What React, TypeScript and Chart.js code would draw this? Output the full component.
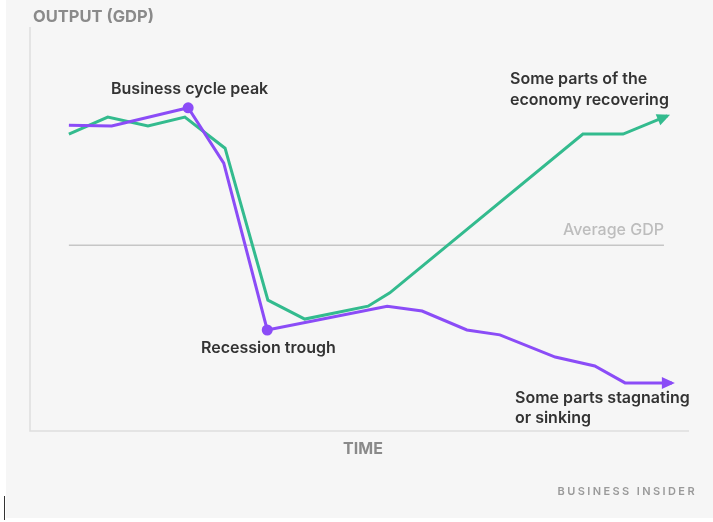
import React, { useEffect, useRef } from "react";
import { Chart, registerables } from "chart.js";

Chart.register(...registerables);

// Time positions (0-100) and output values (0-100)
const timeGreen = [5.9, 11.8, 17.9, 23.5, 29.6, 36.1, 41.7, 51.3, 54.6, 83.9, 90.0, 96.7];
const gdpGreen = [73.5, 77.7, 75.5, 77.7, 70.0, 32.4, 27.7, 30.9, 34.2, 73.5, 73.5, 78.0];

const timePurple = [5.9, 12.4, 24.0, 29.4, 36.0, 54.2, 59.5, 66.3, 71.3, 79.7, 85.7, 90.3, 97.4];
const gdpPurple = [75.7, 75.5, 80.0, 66.3, 25.0, 30.9, 29.7, 25.0, 23.8, 18.3, 16.1, 11.9, 11.9];

const avgTime = [5.9, 96.2];
const avgGdp = [46.0, 46.0];

const peakIndex = 2;
const troughIndex = 4;

const GREEN = "#33bb8e";
const PURPLE = "#8b4cf7";

function toPoints(xs: number[], ys: number[]) {
  return xs.map((x, i) => ({ x, y: ys[i] }));
}

function drawArrow(ctx: CanvasRenderingContext2D, x0: number, y0: number, x1: number, y1: number, color: string) {
  const a = Math.atan2(y1 - y0, x1 - x0);
  const L = 13, W = 6, ext = 3;
  ctx.save();
  ctx.translate(x1 + Math.cos(a) * ext, y1 + Math.sin(a) * ext);
  ctx.rotate(a);
  ctx.fillStyle = color;
  ctx.beginPath();
  ctx.moveTo(0, 0);
  ctx.lineTo(-L, -W);
  ctx.lineTo(-L, W);
  ctx.closePath();
  ctx.fill();
  ctx.restore();
}

export default function App() {
  const ref = useRef<HTMLCanvasElement>(null);

  useEffect(() => {
    document.body.style.margin = "0";
    const canvas = ref.current!;

    const bgPlugin = {
      id: "bg",
      beforeDraw(chart: any) {
        const ctx = chart.ctx as CanvasRenderingContext2D;
        const { left, top, right, bottom } = chart.chartArea;
        ctx.save();
        ctx.fillStyle = "#ffffff";
        ctx.fillRect(0, 0, chart.width, chart.height);
        ctx.fillStyle = "#f6f6f6";
        ctx.fillRect(6, 0, chart.width - 6, 518);
        ctx.strokeStyle = "#dedede";
        ctx.lineWidth = 1.5;
        ctx.beginPath();
        ctx.moveTo(left, top);
        ctx.lineTo(left, bottom);
        ctx.lineTo(right, bottom);
        ctx.stroke();
        // small dark artifact at lower-left
        ctx.strokeStyle = "#333";
        ctx.lineWidth = 1;
        ctx.beginPath();
        ctx.moveTo(4.5, 496);
        ctx.lineTo(4.5, 520);
        ctx.stroke();
        ctx.restore();
      },
    };

    const textPlugin = {
      id: "texts",
      afterDatasetsDraw(chart: any) {
        const ctx = chart.ctx as CanvasRenderingContext2D;
        const xs = chart.scales.x;
        const ys = chart.scales.y;
        const px = (v: number) => xs.getPixelForValue(v);
        const py = (v: number) => ys.getPixelForValue(v);

        const g = timeGreen.length - 1;
        drawArrow(ctx, px(timeGreen[g - 1]), py(gdpGreen[g - 1]), px(timeGreen[g]), py(gdpGreen[g]), GREEN);
        const p = timePurple.length - 1;
        drawArrow(ctx, px(timePurple[p - 1]), py(gdpPurple[p - 1]), px(timePurple[p]), py(gdpPurple[p]), PURPLE);

        ctx.save();
        ctx.textBaseline = "middle";
        ctx.textAlign = "left";
        ctx.fillStyle = "#333333";
        ctx.font = "600 16px Inter";
        ctx.fillText("Business cycle peak", 111, 89);
        ctx.fillText("Recession trough", 201, 348);
        ctx.fillText("Some parts of the", 510, 79);
        ctx.fillText("economy recovering", 510, 100);
        ctx.fillText("Some parts stagnating", 515, 398);
        ctx.fillText("or sinking", 515, 418);

        ctx.fillStyle = "#bdbdbd";
        ctx.font = "500 16px Inter";
        ctx.textAlign = "right";
        ctx.fillText("Average GDP", 664, 230);

        ctx.fillStyle = "#8a8a8a";
        ctx.font = "700 16.5px Inter";
        ctx.textAlign = "left";
        ctx.fillText("OUTPUT (GDP)", 33, 17);
        ctx.textAlign = "center";
        ctx.font = "700 16px Inter";
        ctx.fillText("TIME", 363, 449);

        ctx.fillStyle = "#9a9a9a";
        ctx.font = "600 11px Inter";
        ctx.textAlign = "right";
        (ctx as any).letterSpacing = "2.4px";
        ctx.fillText("BUSINESS INSIDER", 697, 492);
        ctx.restore();
      },
    };

    const radii = (n: number) => timePurple.map((_, i) => (i === peakIndex || i === troughIndex ? n : 0));

    const chart = new Chart(canvas, {
      type: "line",
      data: {
        datasets: [
          {
            data: toPoints(timePurple, gdpPurple),
            borderColor: PURPLE,
            backgroundColor: PURPLE,
            borderWidth: 3,
            pointRadius: radii(5.5),
            pointBorderWidth: 0,
            pointBackgroundColor: PURPLE,
            tension: 0,
            fill: false,
          },
          {
            data: toPoints(timeGreen, gdpGreen),
            borderColor: GREEN,
            borderWidth: 3,
            pointRadius: 0,
            tension: 0,
            fill: false,
          },
          {
            data: toPoints(avgTime, avgGdp),
            borderColor: "#c6c6c6",
            borderWidth: 1.5,
            pointRadius: 0,
            tension: 0,
            fill: false,
          },
        ],
      },
      options: {
        animation: false,
        responsive: false,
        layout: { padding: { left: 30, top: 27, right: 24, bottom: 91 } },
        plugins: { legend: { display: false }, tooltip: { enabled: false } },
        scales: {
          x: { type: "linear", min: 0, max: 100, display: false },
          y: { type: "linear", min: 0, max: 100, display: false },
        },
      },
      plugins: [bgPlugin, textPlugin],
    });

    return () => chart.destroy();
  }, []);

  return (
    <div style={{ position: "absolute", left: 0, top: 0 }}>
      <canvas ref={ref} width={713} height={522} style={{ display: "block", width: 713, height: 522 }} />
    </div>
  );
}
